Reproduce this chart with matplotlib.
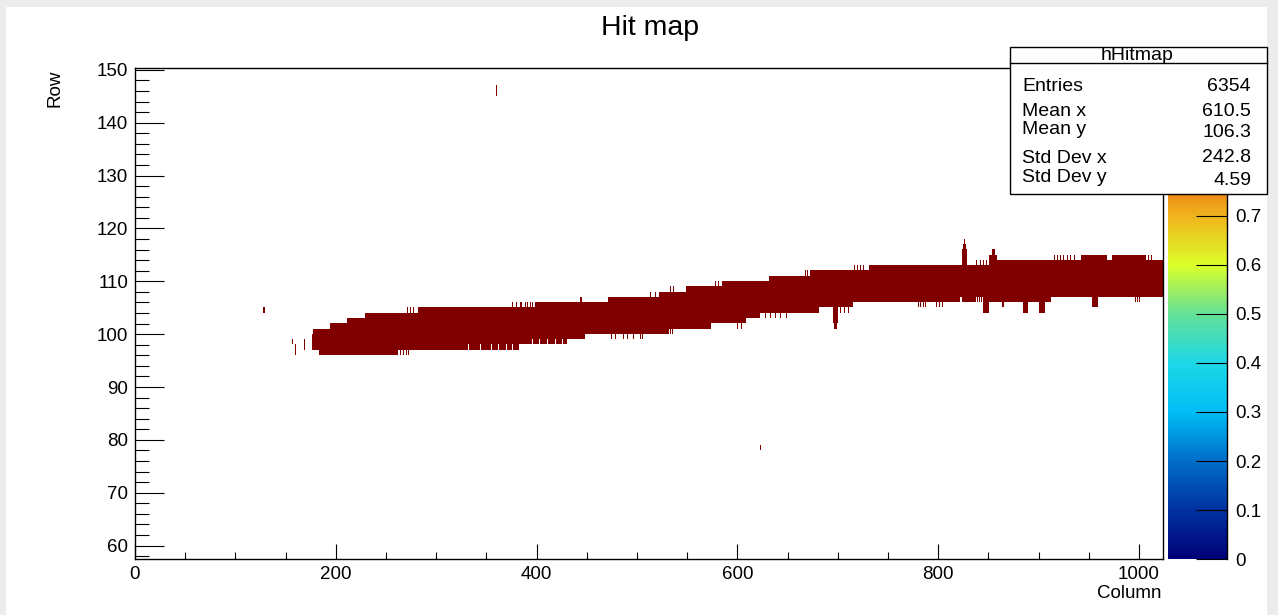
import numpy as np
import matplotlib.pyplot as plt
from matplotlib.patches import Rectangle
from matplotlib.lines import Line2D
from matplotlib.ticker import MultipleLocator, FuncFormatter
from matplotlib.colors import LinearSegmentedColormap

plt.rcParams['font.family'] = ['Liberation Sans', 'DejaVu Sans']

# pixel matrix: 1024 columns, rows 57..150
n_cols = 1024
row_min, row_max = 57, 150

# main band, upper edge (row above the highest hit) as a step function of column
top_cols = [176, 177, 183, 194, 211, 229, 282, 398, 463, 471, 522, 549, 585, 632, 672, 731, 859, 942, 968, 973, 1007]
top_edge = [100, 101, 101, 102, 103, 104, 105, 106, 106, 107, 108, 109, 110, 111, 112, 113, 114, 115, 114, 115, 114]
# single columns sticking one row above the band
top_spikes = [271, 274, 277, 376, 380, 384, 388, 390, 393, 395, 443, 444, 513, 518, 533, 536,
              578, 581, 667, 669, 716, 719, 722, 725, 838, 842, 845, 848,
              915, 918, 921, 924, 928, 931, 935, 1009, 1012]
# taller peaks (column -> upper edge)
peak_cols = [824, 825, 826, 827, 828, 851, 852, 853, 854, 855, 856, 857, 858]
peak_top = [116, 117, 118, 117, 116, 115, 115, 115, 116, 116, 116, 115, 115]

# main band, lowest hit row as a step function of column
bot_cols = [176, 183, 262, 383, 430, 448, 532, 574, 609, 623, 681, 715, 912]
bot_edge = [97, 96, 97, 98, 99, 100, 101, 102, 103, 104, 105, 106, 107]
bot_dips = [264, 267, 270, 272, 474, 478, 486, 490, 496, 503, 505, 533, 535, 600, 604,
            628, 633, 638, 642, 648, 702, 706, 710, 780, 782, 785, 787, 798, 801, 804,
            864, 865, 996, 998, 1000]
bot_raise = [332, 344, 355, 362, 370, 376, 395, 402, 410, 418, 425, 822, 823, 838, 840, 842, 844]
# deeper notches (column -> lowest hit row)
notch_cols = [695, 696, 697, 698, 699, 845, 846, 847, 848, 849, 850, 885, 886, 887, 888, 889,
              900, 901, 902, 903, 904, 905, 953, 954, 955, 956, 957, 958]
notch_bot = [102, 101, 101, 101, 102, 104, 104, 104, 104, 104, 104, 104, 104, 104, 104, 104,
             104, 104, 104, 104, 104, 104, 105, 105, 105, 105, 105, 105]

# stray hits away from the band
iso_cols = [128, 156, 159, 159, 168, 168, 360, 360, 623]
iso_rows = [104, 98, 96, 97, 97, 98, 145, 146, 78]

stats_names = ['Entries', 'Mean x', 'Mean y', 'Std Dev x', 'Std Dev y']
stats_values = ['6354', '610.5', '106.3', '242.8', '4.59']
cbar_ticks = [0, 0.1, 0.2, 0.3, 0.4, 0.5, 0.6, 0.7]

# rainbow palette, navy -> cyan -> yellow -> dark red
palette = LinearSegmentedColormap.from_list('rainbow_root', [
    (0.00, '#000078'), (0.10, '#0032a0'), (0.20, '#006ec8'), (0.30, '#00bef5'),
    (0.40, '#1ed7e6'), (0.50, '#64e196'), (0.60, '#dcff28'), (0.70, '#f0b41e'),
    (0.80, '#e65a0a'), (0.90, '#be1405'), (1.00, '#800000')])

# fill the hit map
hits = np.full((row_max - row_min + 1, n_cols), np.nan)
for c in range(top_cols[0], n_cols):
    top = top_edge[np.searchsorted(top_cols, c, side='right') - 1]
    bot = bot_edge[np.searchsorted(bot_cols, c, side='right') - 1]
    if c in top_spikes:
        top += 1
    if c in peak_cols:
        top = peak_top[peak_cols.index(c)]
    if c in bot_dips:
        bot -= 1
    if c in bot_raise:
        bot += 1
    if c in notch_cols:
        bot = notch_bot[notch_cols.index(c)]
    hits[bot - row_min:top - row_min, c] = 1
for c, r in zip(iso_cols, iso_rows):
    hits[r - row_min, c] = 1

W, H = 1278, 615
fig = plt.figure(figsize=(W / 100, H / 100), dpi=100, facecolor='#ececec')
fig.add_artist(Rectangle((6 / W, 0), 1261 / W, 1 - 7 / H, transform=fig.transFigure,
                         facecolor='white', edgecolor='none', zorder=-10))


def box(x0, y0, x1, y1):
    return [x0 / W, 1 - y1 / H, (x1 - x0) / W, (y1 - y0) / H]


ax = fig.add_axes(box(135, 68.3, 1163, 559.3))
cax = fig.add_axes(box(1168.3, 68.3, 1226.7, 559.3))

im = ax.imshow(hits, origin='lower', extent=[0, n_cols, row_min, row_max + 1], aspect='auto',
               interpolation='nearest', cmap=palette, vmin=0, vmax=1)
ax.set_xlim(0, n_cols)
ax.set_ylim(57.4, 150.3)
ax.xaxis.set_major_locator(MultipleLocator(200))
ax.xaxis.set_minor_locator(MultipleLocator(50))
ax.yaxis.set_major_locator(MultipleLocator(10))
ax.yaxis.set_minor_locator(MultipleLocator(2))
ax.tick_params(which='both', direction='in', top=False, right=False, width=0.8,
               labelsize=13.5, pad=5)
ax.tick_params(axis='x', which='major', length=10.5)
ax.tick_params(axis='x', which='minor', length=5.3)
ax.tick_params(axis='y', which='major', length=21)
ax.tick_params(axis='y', which='minor', length=10)
for s in ax.spines.values():
    s.set_linewidth(1.0)

ax.set_xlabel('Column', loc='right', fontsize=13.5)
ax.xaxis.set_label_coords(0.9987, -0.052)
ax.set_ylabel('Row', loc='top', fontsize=13.5)
ax.yaxis.set_label_coords(-0.0697, 0.998)

cb = fig.colorbar(im, cax=cax, ticks=cbar_ticks)
cb.outline.set_visible(False)
cax.tick_params(direction='in', length=22, width=0.8, labelsize=13.5, pad=6)
cax.yaxis.set_major_formatter(FuncFormatter(lambda v, p: '%g' % v))
cax.add_line(Line2D([1, 1], [0, 1], transform=cax.transAxes, color='black', lw=1, clip_on=False))

fig.text(650 / W, 1 - 28 / H, 'Hit map', ha='center', va='center', fontsize=20.5)

# statistics box
fig.add_artist(Rectangle((1009.5 / W, 1 - 194 / H), 257.5 / W, 147 / H, transform=fig.transFigure,
                         facecolor='white', edgecolor='black', lw=1, zorder=5))
fig.add_artist(Line2D([1009.5 / W, 1267 / W], [1 - 62.7 / H] * 2, transform=fig.transFigure,
                      color='black', lw=1, zorder=6))
fig.text(1137 / W, 1 - 60.5 / H, 'hHitmap', ha='center', va='baseline', fontsize=14, zorder=7)
name_base = [90.7, 116, 134, 162.7, 181.7]
value_base = [90.7, 116, 136.7, 161.7, 185]
for name, val, yn, yv in zip(stats_names, stats_values, name_base, value_base):
    fig.text(1022.5 / W, 1 - yn / H, name, ha='left', va='baseline', fontsize=14, zorder=7)
    fig.text(1251 / W, 1 - yv / H, val, ha='right', va='baseline', fontsize=14, zorder=7)

fig.savefig('out.png', dpi=100, facecolor=fig.get_facecolor())
